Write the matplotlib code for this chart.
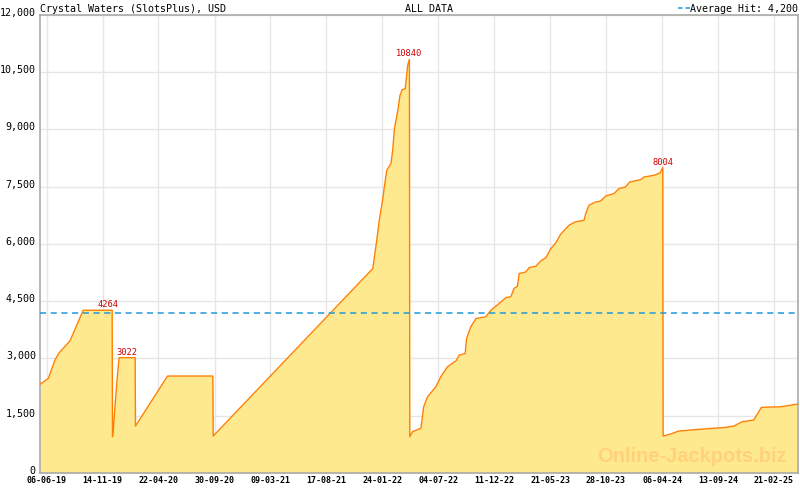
import matplotlib
matplotlib.use('Agg')
import matplotlib.pyplot as plt
import matplotlib.dates as mdates
import matplotlib.transforms as mtransforms
from matplotlib.ticker import FuncFormatter, FixedLocator
from datetime import datetime

# jackpot history (date, value in USD)
dates = ['2019-05-18', '2019-06-11', '2019-06-30', '2019-07-12', '2019-08-12',
         '2019-09-19', '2019-12-11', '2019-12-12', '2019-12-14', '2019-12-25',
         '2019-12-31', '2020-02-15', '2020-02-16', '2020-05-18', '2020-09-25',
         '2020-09-26', '2021-12-28', '2022-01-07', '2022-01-16', '2022-01-26',
         '2022-01-30', '2022-02-06', '2022-02-18', '2022-02-23', '2022-02-28',
         '2022-03-09', '2022-03-16', '2022-03-22', '2022-03-31', '2022-04-07',
         '2022-04-12', '2022-04-13', '2022-04-21', '2022-05-15', '2022-05-23',
         '2022-06-03', '2022-06-27', '2022-07-11', '2022-07-30', '2022-08-24',
         '2022-09-02', '2022-09-19', '2022-09-23', '2022-10-05', '2022-10-20',
         '2022-11-17', '2022-12-02', '2022-12-31', '2023-01-14', '2023-01-28',
         '2023-02-06', '2023-02-16', '2023-02-21', '2023-03-12', '2023-03-22',
         '2023-04-10', '2023-04-24', '2023-05-09', '2023-05-23', '2023-06-06',
         '2023-06-20', '2023-07-05', '2023-07-14', '2023-07-31', '2023-08-26',
         '2023-08-31', '2023-09-09', '2023-09-28', '2023-10-13', '2023-10-27',
         '2023-11-20', '2023-12-04', '2023-12-23', '2024-01-04', '2024-02-05',
         '2024-02-14', '2024-03-14', '2024-03-31', '2024-04-08', '2024-04-09',
         '2024-04-30', '2024-05-24', '2024-07-21', '2024-10-05', '2024-10-29',
         '2024-11-22', '2024-12-25', '2025-01-16', '2025-03-12', '2025-05-01']
values = [2324, 2480, 2960, 3150, 3460,
          4264, 4264, 951, 1100, 2434,
          3022, 3022, 1230, 2540, 2540,
          968, 5357, 6011, 6650, 7200,
          7494, 7930, 8105, 8453, 9020,
          9455, 9892, 10041, 10067, 10677,
          10840, 951, 1082, 1170, 1735,
          1997, 2258, 2520, 2782, 2940,
          3088, 3132, 3525, 3829, 4048,
          4091, 4266, 4483, 4597, 4615,
          4833, 4894, 5226, 5268, 5383,
          5417, 5556, 5645, 5880, 6027,
          6255, 6404, 6490, 6577, 6621,
          6796, 7014, 7100, 7126, 7257,
          7320, 7450, 7494, 7625, 7686,
          7755, 7800, 7860, 8004, 968,
          1020, 1100, 1143, 1195, 1230,
          1343, 1387, 1720, 1735, 1806]

# hits shown with red labels
peak_values = [4264, 3022, 10840, 8004]
peak_label_dates = ['2019-11-29', '2020-01-22', '2022-04-12', '2024-04-08']

average_hit = 4200
tick_labels = ['06-06-19', '14-11-19', '22-04-20', '30-09-20', '09-03-21', '17-08-21', '24-01-22',
               '04-07-22', '11-12-22', '21-05-23', '28-10-23', '06-04-24', '13-09-24', '21-02-25']

x = [datetime.strptime(d, '%Y-%m-%d') for d in dates]
tick_pos = [datetime.strptime(t, '%d-%m-%y') for t in tick_labels]

fig = plt.figure(figsize=(8, 4.9), dpi=100)
ax = fig.add_axes([0.05, 0.0347, 0.9475, 0.9347])

ax.fill_between(x, values, 0, color='#FFE98F', lw=0, zorder=1)
ax.plot(x, values, color='#FF8000', lw=1.0, zorder=3)
ax.axhline(average_hit, color='#1E9AD6', lw=1.1, dashes=(4, 3), zorder=4)

for v, ld in zip(peak_values, peak_label_dates):
    ax.text(datetime.strptime(ld, '%Y-%m-%d'), v + 25, str(v), color='#CC0000', fontsize=6.3,
            family='DejaVu Sans Mono', ha='center', va='bottom', zorder=5)

ax.text(0.985, 0.015, 'Online-Jackpots.biz', transform=ax.transAxes, ha='right', va='bottom',
        fontsize=14.5, fontweight='bold', family='Liberation Sans', color='#FFD27A', zorder=2)

ax.set_xlim(x[0], x[-1])
ax.set_ylim(0, 12000)
ax.set_yticks(range(0, 12001, 1500))
ax.yaxis.set_major_formatter(FuncFormatter(lambda v, p: '{:,}'.format(int(v))))

ax.xaxis.set_major_locator(FixedLocator(mdates.date2num(tick_pos)))
ax.set_xticklabels(tick_labels)
minor = []
for i in range(len(tick_pos) - 1):
    step = (tick_pos[i + 1] - tick_pos[i]) / 7
    minor += [tick_pos[i] + step * k for k in range(1, 7)]
step = (tick_pos[1] - tick_pos[0]) / 7
minor += [tick_pos[-1] + step * k for k in range(1, 4)]
minor += [tick_pos[0] - step]
ax.xaxis.set_minor_locator(FixedLocator(mdates.date2num(minor)))

ax.grid(True, which='major', color='#E6E6E6', lw=1, zorder=0)
ax.set_axisbelow(True)
for s in ax.spines.values():
    s.set_color('#AAAAAA')
    s.set_linewidth(1.2)

ax.tick_params(axis='x', which='major', direction='in', length=4, color='#AAAAAA', pad=2,
               labelsize=6, labelcolor='black')
ax.tick_params(axis='x', which='minor', direction='in', length=3, color='#AAAAAA')
ax.tick_params(axis='y', which='major', direction='out', length=0, pad=3, labelsize=7.2)
for lab in ax.get_xticklabels():
    lab.set_family('DejaVu Sans Mono')
    lab.set_fontweight('bold')
shift = mtransforms.ScaledTranslation(0, 3 / 100, fig.dpi_scale_trans)
for lab in ax.get_yticklabels():
    lab.set_family('DejaVu Sans Mono')
    lab.set_transform(lab.get_transform() + shift)

fig.text(0.05, 0.972, 'Crystal Waters (SlotsPlus), USD', fontsize=7.2, family='DejaVu Sans Mono',
         va='bottom', ha='left')
fig.text(0.506, 0.972, 'ALL DATA', fontsize=7.2, family='DejaVu Sans Mono', va='bottom', ha='left')
fig.text(0.997, 0.972, 'Average Hit: 4,200', fontsize=7.2, family='DejaVu Sans Mono',
         va='bottom', ha='right')
fig.add_artist(plt.Line2D([0.8475, 0.8625], [0.983, 0.983], color='#1E9AD6', lw=1.1,
                          dashes=(3, 2)))

fig.savefig('out.png', dpi=100)
